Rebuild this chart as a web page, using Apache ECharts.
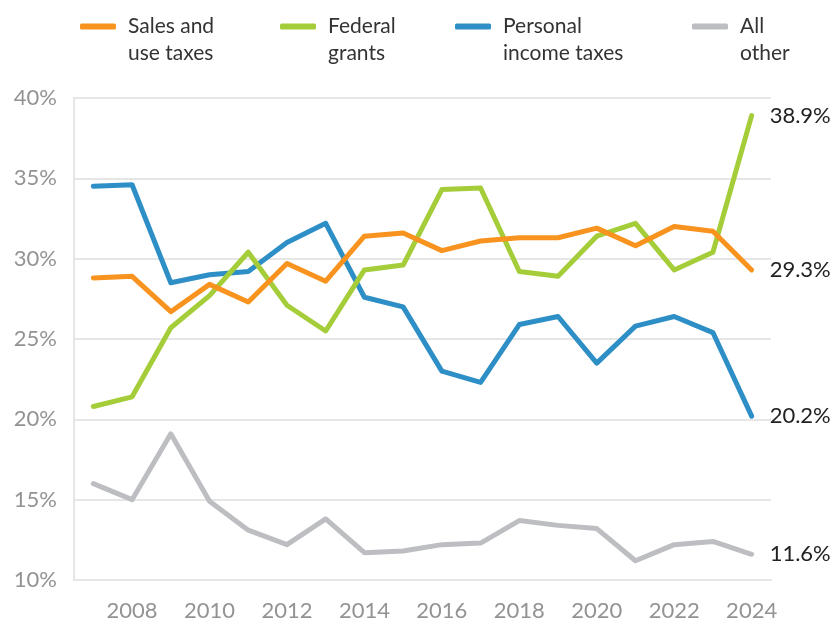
<!DOCTYPE html>
<html>
<head>
<meta charset="utf-8">
<script src="https://cdn.jsdelivr.net/npm/echarts@6/dist/echarts.min.js"></script>
<style>
  html, body { margin: 0; padding: 0; background: #fff; }
  #chart { width: 835px; height: 627px; }
</style>
</head>
<body>
<div id="chart"></div>
<script>
// years on the x axis
const years = ['2007', '2008', '2009', '2010', '2011', '2012', '2013', '2014', '2015',
  '2016', '2017', '2018', '2019', '2020', '2021', '2022', '2023', '2024']

// share of revenue, %
const salesTaxes = [28.8, 28.9, 26.7, 28.4, 27.3, 29.7, 28.6, 31.4, 31.6,
  30.5, 31.1, 31.3, 31.3, 31.9, 30.8, 32.0, 31.7, 29.3]
const federalGrants = [20.8, 21.4, 25.7, 27.7, 30.4, 27.1, 25.5, 29.3, 29.6,
  34.3, 34.4, 29.2, 28.9, 31.4, 32.2, 29.3, 30.4, 38.9]
const incomeTaxes = [34.5, 34.6, 28.5, 29.0, 29.2, 31.0, 32.2, 27.6, 27.0,
  23.0, 22.3, 25.9, 26.4, 23.5, 25.8, 26.4, 25.4, 20.2]
const allOther = [16.0, 15.0, 19.1, 14.9, 13.1, 12.2, 13.8, 11.7, 11.8,
  12.2, 12.3, 13.7, 13.4, 13.2, 11.2, 12.2, 12.4, 11.6]

// empty first line so the icon (centred on the text) lines up with line 1
const legendNames = {
  'Sales and use taxes': '\nSales and\nuse taxes',
  'Federal grants': '\nFederal\ngrants',
  'Personal income taxes': '\nPersonal\nincome taxes',
  'All other': '\nAll\nother',
}

const font = 'Lato, "Open Sans", sans-serif'

// one legend per item so each sits where the original puts it
function legendAt(name, left) {
  return {
    data: [name],
    left: left,
    top: -19,
    icon: 'roundRect',
    itemWidth: 36,
    itemHeight: 6,
    selectedMode: false,
    formatter: (n) => legendNames[n],
    textStyle: {
      fontFamily: font,
      fontSize: 21,
      lineHeight: 27,
      color: '#333',
      padding: [0, 0, 0, 7],
    },
  }
}

function line(name, data, color) {
  return {
    name: name,
    type: 'line',
    data: data,
    showSymbol: false,
    symbol: 'none',
    lineStyle: { color: color, width: 5, cap: 'round', join: 'round' },
    itemStyle: { color: color },
    endLabel: {
      show: true,
      distance: 18,
      formatter: (p) => p.value.toFixed(1) + '%',
      fontFamily: font,
      fontSize: 22,
      color: '#222',
    },
  }
}

const chart = echarts.init(document.getElementById('chart'))
chart.setOption({
  animation: false,
  legend: [
    legendAt('Sales and use taxes', 75),
    legendAt('Federal grants', 275),
    legendAt('Personal income taxes', 450),
    legendAt('All other', 687),
  ],
  grid: { left: 74, right: 64, top: 98, bottom: 47 },
  xAxis: {
    type: 'category',
    data: years,
    boundaryGap: true,
    axisTick: { show: false },
    axisLine: { show: true, lineStyle: { color: '#e6e6e6', width: 2 } },
    axisLabel: {
      interval: 0,
      formatter: (v) => (Number(v) % 2 === 0 ? v : ''),
      fontFamily: font,
      fontSize: 22,
      color: '#939393',
      margin: 20,
    },
  },
  yAxis: {
    type: 'value',
    min: 10,
    max: 40,
    interval: 5,
    axisLine: { show: true, lineStyle: { color: '#e6e6e6', width: 2 } },
    axisTick: { show: false },
    splitLine: { lineStyle: { color: '#e6e6e6', width: 2 } },
    axisLabel: {
      formatter: '{value}%',
      fontFamily: font,
      fontSize: 22,
      color: '#939393',
      margin: 17,
    },
  },
  series: [
    line('All other', allOther, '#bdbec2'),
    line('Personal income taxes', incomeTaxes, '#2d8fc6'),
    line('Federal grants', federalGrants, '#a5cd39'),
    line('Sales and use taxes', salesTaxes, '#f7931e'),
  ],
})
</script>
</body>
</html>
